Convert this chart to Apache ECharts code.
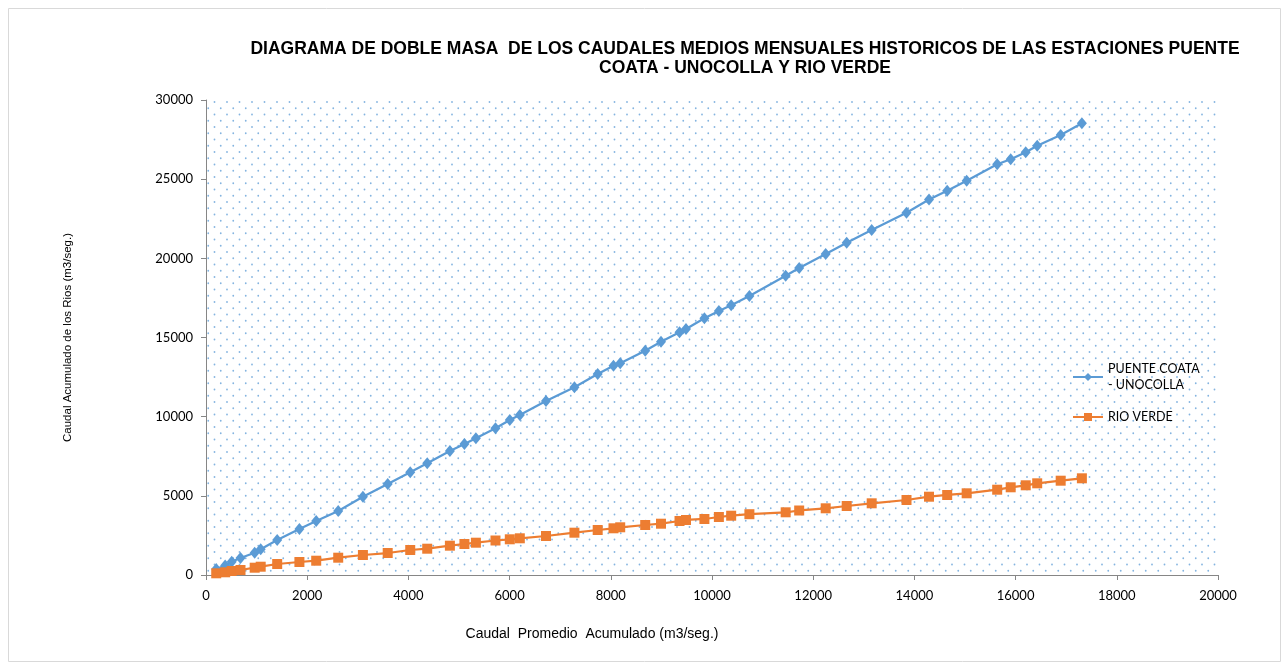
<!DOCTYPE html>
<html>
<head>
<meta charset="utf-8">
<title>Diagrama de doble masa</title>
<script src="https://cdn.jsdelivr.net/npm/echarts@6/dist/echarts.min.js"></script>
<style>
  html, body { margin: 0; padding: 0; background: #fff; }
  #chart { width: 1288px; height: 670px; }
</style>
</head>
<body>
<div id="chart"></div>
<script>
// caudal promedio acumulado (eje x)
const promedioAcum = [
  202, 379, 508, 682, 962, 1081, 1407, 1846, 2178, 2613,
  3101, 3591, 4036, 4372, 4820, 5107, 5334, 5721, 6004, 6202,
  6719, 7281, 7741, 8053, 8186, 8680, 8992, 9358, 9486, 9850,
  10136, 10379, 10739, 11456, 11723, 12247, 12662, 13156, 13844, 14289,
  14648, 15033, 15636, 15903, 16200, 16427, 16891, 17310
];
// caudal acumulado Puente Coata - Unocolla
const coataAcum = [
  379, 600, 840, 1074, 1408, 1623, 2211, 2905, 3411, 4042,
  4945, 5747, 6486, 7055, 7832, 8274, 8634, 9265, 9790, 10105,
  10990, 11855, 12695, 13219, 13371, 14167, 14735, 15329, 15537, 16213,
  16674, 17034, 17621, 18897, 19390, 20274, 20988, 21790, 22883, 23716,
  24272, 24904, 25940, 26256, 26698, 27115, 27790, 28529
];
// caudal acumulado Rio Verde
const verdeAcum = [
  107, 171, 253, 316, 461, 524, 695, 821, 903, 1093,
  1263, 1389, 1579, 1661, 1851, 1958, 2040, 2179, 2255, 2318,
  2463, 2672, 2842, 2950, 3013, 3158, 3240, 3411, 3474, 3537,
  3663, 3745, 3840, 3960, 4074, 4213, 4358, 4528, 4737, 4945,
  5053, 5160, 5387, 5539, 5665, 5791, 5956, 6107
];

const serieNames = ['PUENTE COATA - UNOCOLLA', 'RIO VERDE'];

// dotted fill like the excel pattern
function dotPattern() {
  let c = document.createElement('canvas');
  c.width = 25;
  c.height = 25;
  let ctx = c.getContext('2d');
  ctx.fillStyle = 'rgba(91,155,213,0.75)';
  for (let r = 0; r < 4; r++) {
    let y = r * 6.25 + 2;
    let off = r % 2 == 0 ? 2 : 8.25;
    for (let k = 0; k < 2; k++) {
      ctx.beginPath();
      ctx.arc(off + k * 12.5, y, 0.9, 0, Math.PI * 2);
      ctx.fill();
    }
  }
  return c;
}

const tickFont = { color: '#000', fontSize: 13, fontFamily: 'Lato', formatter: v => String(v) };

let myChart = echarts.init(document.getElementById('chart'), null, { renderer: 'canvas' });
let option = {
  animation: false,
  title: {
    text: 'DIAGRAMA DE DOBLE MASA  DE LOS CAUDALES MEDIOS MENSUALES HISTORICOS DE LAS ESTACIONES PUENTE\nCOATA - UNOCOLLA Y RIO VERDE',
    left: 740,
    top: 35,
    textAlign: 'center',
    textStyle: {
      fontFamily: 'Liberation Sans',
      fontWeight: 'bold',
      fontSize: 17.5,
      lineHeight: 19,
      color: '#000',
    },
  },
  grid: {
    left: 206,
    right: 70,
    top: 100,
    bottom: 95,
    show: true,
    borderWidth: 0,
    backgroundColor: { image: dotPattern(), repeat: 'repeat' },
  },
  legend: {
    orient: 'vertical',
    left: 1067,
    top: 356,
    itemWidth: 30,
    itemHeight: 10,
    itemGap: 16,
    data: serieNames,
    formatter: name => (name == serieNames[0] ? 'PUENTE COATA\n- UNOCOLLA' : name),
    textStyle: { color: '#000', fontSize: 12.5, fontFamily: 'Lato', lineHeight: 16 },
  },
  xAxis: {
    type: 'value',
    min: 0,
    max: 20000,
    interval: 2000,
    name: 'Caudal  Promedio  Acumulado (m3/seg.)',
    nameLocation: 'middle',
    nameGap: 52,
    nameTextStyle: { color: '#000', fontSize: 14, fontFamily: 'Liberation Sans', padding: [0, 240, 0, 0] },
    axisLine: { lineStyle: { color: '#868686', width: 1 } },
    axisTick: { show: true, length: 5, lineStyle: { color: '#868686' } },
    axisLabel: Object.assign({ margin: 14 }, tickFont),
    splitLine: { show: false },
  },
  yAxis: {
    type: 'value',
    min: 0,
    max: 30000,
    interval: 5000,
    name: 'Caudal Acumulado de los Rios (m3/seg.)',
    nameLocation: 'middle',
    nameGap: 132,
    nameTextStyle: { color: '#000', fontSize: 11.5, fontFamily: 'Liberation Sans' },
    axisLine: { show: true, lineStyle: { color: '#868686', width: 1 } },
    axisTick: { show: true, length: 5, lineStyle: { color: '#868686' } },
    axisLabel: Object.assign({ margin: 13 }, tickFont),
    splitLine: { show: false },
  },
  series: [
    {
      name: serieNames[0],
      type: 'line',
      data: promedioAcum.map((x, i) => [x, coataAcum[i]]),
      symbol: 'diamond',
      symbolSize: [10, 12],
      itemStyle: { color: '#5b9bd5' },
      lineStyle: { color: '#5b9bd5', width: 2.25 },
    },
    {
      name: serieNames[1],
      type: 'line',
      data: promedioAcum.map((x, i) => [x, verdeAcum[i]]),
      symbol: 'rect',
      symbolSize: 10,
      itemStyle: { color: '#ed7d31' },
      lineStyle: { color: '#ed7d31', width: 2.25 },
    },
  ],
  graphic: [
    {
      type: 'rect',
      shape: { x: 8.5, y: 8.5, width: 1272, height: 653 },
      style: { fill: 'none', stroke: '#d9d9d9', lineWidth: 1 },
      silent: true,
    },
  ],
};
myChart.setOption(option);
</script>
</body>
</html>
